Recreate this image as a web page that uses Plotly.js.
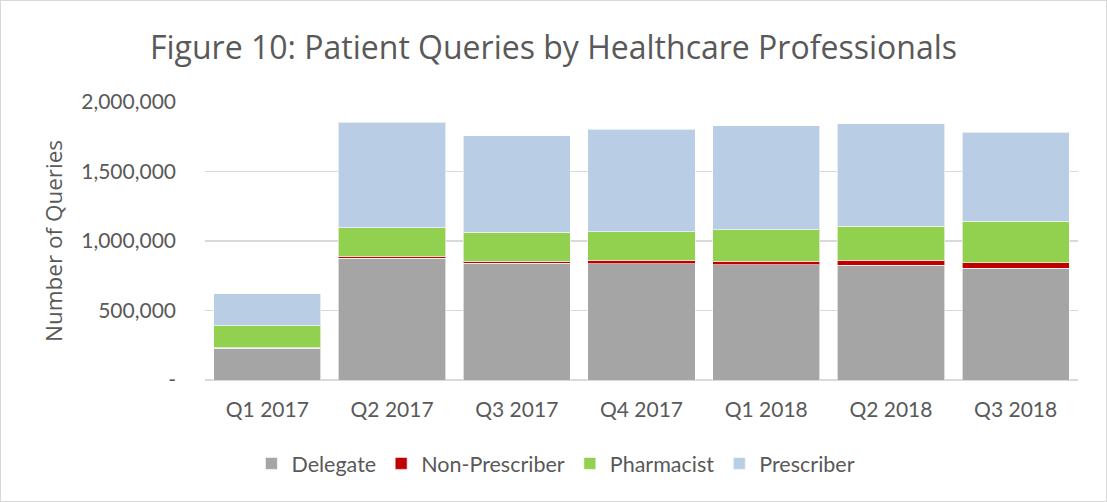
<!DOCTYPE html>
<html>
<head>
<meta charset="utf-8">
<script src="https://cdn.plot.ly/plotly-3.0.1.min.js"></script>
<style>
html,body{margin:0;padding:0;background:#fff;}
#chart{width:1107px;height:502px;}
#frame{position:absolute;left:0;top:0;width:1107px;height:502px;box-sizing:border-box;border:1px solid #d9d9d9;pointer-events:none;}
</style>
</head>
<body>
<div id="chart"></div>
<div id="frame"></div>
<script>
const categories = ["Q1 2017","Q2 2017","Q3 2017","Q4 2017","Q1 2018","Q2 2018","Q3 2018"];
const delegate      = [230000, 876000, 840000, 838000, 828000, 826000, 804000];
const nonPrescriber = [3000, 12000, 14000, 24000, 26000, 36000, 38000];
const pharmacist    = [158000, 206000, 209000, 206000, 228000, 245000, 300000];
const prescriber    = [231000, 759000, 694000, 735000, 747000, 735000, 641000];
const yTickVals = [0, 500000, 1000000, 1500000, 2000000];
const yTickText = ["-", "500,000", "1,000,000", "1,500,000", "2,000,000"];

const seriesNames = ["Delegate","Non-Prescriber","Pharmacist","Prescriber"];
const seriesData = [delegate, nonPrescriber, pharmacist, prescriber];
const seriesColors = ["#A5A5A5","#C00000","#92D050","#B9CDE4"];

const traces = seriesNames.map((n,i)=>({
  type:'bar', name:n, x:categories, y:seriesData[i],
  marker:{color:seriesColors[i], line:{color:'rgba(255,255,255,0.6)', width:1}},
  hoverinfo:'x+y+name'
}));

const font = "Lato, 'Open Sans', sans-serif";
const layout = {
  width:1107, height:502,
  barmode:'stack', bargap:0.14,
  paper_bgcolor:'#fff', plot_bgcolor:'#fff',
  margin:{l:205, r:29, t:102, b:122},
  title:{text:"Figure 10: Patient Queries by Healthcare Professionals",
         font:{family:"'Open Sans', sans-serif", size:32, color:'#595959'},
         x:0.5, xanchor:'center', y:0.905, yanchor:'middle'},
  xaxis:{tickfont:{family:font, size:21, color:'#595959'}, showgrid:false,
         showline:false, ticks:'', ticklabelstandoff:15},
  yaxis:{range:[0,2000000], tickvals:yTickVals, ticktext:yTickText,
         tickfont:{family:font, size:21, color:'#595959'},
         gridcolor:'#d9d9d9', gridwidth:1.5, zeroline:true, zerolinecolor:'#d9d9d9', zerolinewidth:1.5,
         ticks:'', ticklabelstandoff:28,
         title:{text:"Number of Queries", font:{family:"'Open Sans', sans-serif", size:22.5, color:'#595959'}, standoff:12}},
  legend:{orientation:'h', x:0.402, xanchor:'center', y:-0.30, yanchor:'middle',
          traceorder:'normal', font:{family:font, size:21.5, color:'#595959'}, itemwidth:30},
  showlegend:true
};
Plotly.newPlot('chart', traces, layout, {displayModeBar:false, staticPlot:true});
</script>
</body>
</html>
